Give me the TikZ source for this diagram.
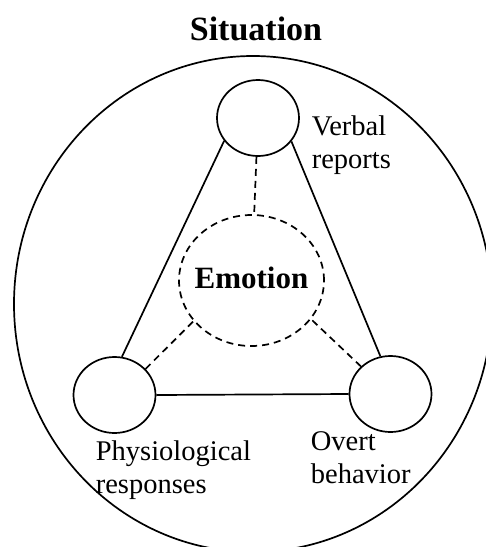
\documentclass[tikz,border=0pt]{standalone}
\usepackage{fontspec}
\setmainfont{Liberation Serif}
\usetikzlibrary{shapes.geometric,positioning}
\tikzstyle{Item} = [draw, ellipse, minimum width=82pt, minimum height=76pt, inner sep=0pt]
\tikzstyle{Core} = [draw, ellipse, dash pattern=on 7pt off 5pt, minimum width=145pt, minimum height=131pt, inner sep=0pt]
\tikzstyle{Label} = [align=left, inner sep=0pt, font=\fontsize{28.5}{33}\selectfont]

\begin{document}
\begin{tikzpicture}[x=1pt, y=-1pt, line width=1.7pt]
    \useasboundingbox (0,0) rectangle (486,547);
    \clip (0,0) rectangle (486,547);
    \node[font=\bfseries\fontsize{34}{40}\selectfont, anchor=base] (title) at (256,40) {Situation};
    \node[draw, ellipse, minimum width=478pt, minimum height=496pt] (situation) at (253,304) {};
    \node[Item] (verbal) at (258,118) {};
    \node[Item] (physio) at (114.5,395) {};
    \node[Item] (overt)  at (390.5,394) {};
    \node[Core, label={[font=\bfseries\fontsize{31}{36}\selectfont, yshift=3pt]center:Emotion}] (emotion) at (251.5,280.5) {};
    \node[Label, anchor=base west] (verbal_t) at (311,168) {Verbal\\reports};
    \node[Label, anchor=base west] (physio_t) at (95,493)  {Physiological\\responses};
    \node[Label, anchor=base west] (overt_t)  at (310,483) {Overt\\behavior};
    \draw (verbal.214) -- (physio.79);
    \draw (verbal.-35) -- (overt.105);
    \draw (physio.east) -- (overt.west);
    \draw[dash pattern=on 7pt off 5pt] (verbal) -- (emotion);
    \draw[dash pattern=on 7pt off 5pt] (physio.40) -- (emotion.215);
    \draw[dash pattern=on 7pt off 5pt] (overt.137) -- (emotion.-33);
\end{tikzpicture}
\end{document}
